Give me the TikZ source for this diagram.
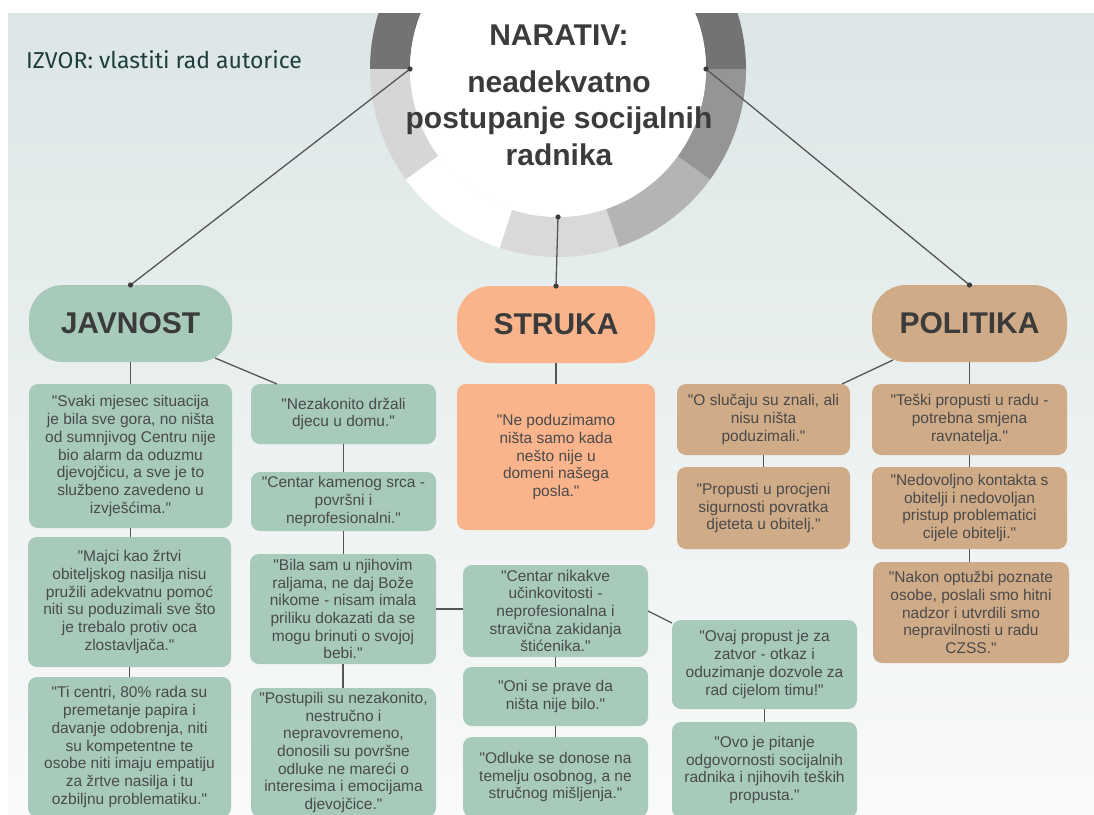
\documentclass[tikz,border=0pt]{standalone}
\usepackage{fontspec}
\setmainfont{Liberation Sans}
\newfontfamily\bodyfont{Liberation Sans}
\newfontfamily\izvorfont{Fira Sans}
\usetikzlibrary{calc}
\definecolor{bgtop}{RGB}{220,230,230}
\definecolor{bgbot}{RGB}{249,250,250}
\definecolor{gbox}{RGB}{167,202,187}
\definecolor{sbox}{RGB}{249,180,139}
\definecolor{tbox}{RGB}{207,171,136}
\definecolor{hdrtxt}{RGB}{59,59,59}
\definecolor{txt}{RGB}{74,74,74}
\definecolor{linec}{RGB}{85,85,85}
\definecolor{izvorc}{RGB}{31,61,61}
\definecolor{ringA}{RGB}{115,115,115}
\definecolor{ringB}{RGB}{214,214,214}
\definecolor{ringC}{RGB}{217,217,217}
\definecolor{ringD}{RGB}{180,180,180}
\definecolor{ringE}{RGB}{149,149,149}
\tikzset{
  qbox/.style={rectangle, rounded corners=9pt, align=center, inner sep=0pt, outer sep=0pt,
    font=\bodyfont\fontsize{15.5}{17.7}\selectfont, text=txt},
  qg/.style={qbox, fill=gbox},
  qs/.style={qbox, fill=sbox},
  qt/.style={qbox, fill=tbox},
  hdr/.style={rectangle, rounded corners=34pt, inner sep=0pt, outer sep=0pt,
    font=\bodyfont\fontsize{30}{35}\selectfont\bfseries, text=hdrtxt},
  circtxt/.style={anchor=base, inner sep=0pt, font=\bodyfont\fontsize{30}{35}\selectfont\bfseries, text=hdrtxt},
  conn/.style={draw=linec, line width=1.3pt},
  enddot/.style={fill=linec!70!black}
}
\begin{document}
\begin{tikzpicture}[x=1pt,y=-1pt]
\useasboundingbox (0,0) rectangle (1094,814);
\clip (0,0) rectangle (1094,814);
\fill[white] (0,0) rectangle (1094,814);
\shade[top color=bgtop, bottom color=bgbot] (8,13) rectangle (1094,814);

% ring
\begin{scope}
\clip (8,13) rectangle (1094,814);
\begin{scope}[shift={(558,69)}, x=1pt, y=1pt]
\fill[ringA] (0:188pt) arc[start angle=0,end angle=180,radius=188pt] -- (180:148pt) arc[start angle=180,end angle=0,radius=148pt] -- cycle;
\fill[ringB] (180:188pt) arc[start angle=180,end angle=216,radius=188pt] -- (216:148pt) arc[start angle=216,end angle=180,radius=148pt] -- cycle;
\fill[white] (216:188pt) arc[start angle=216,end angle=252,radius=188pt] -- (252:148pt) arc[start angle=252,end angle=216,radius=148pt] -- cycle;
\fill[ringC] (252:188pt) arc[start angle=252,end angle=289,radius=188pt] -- (289:148pt) arc[start angle=289,end angle=252,radius=148pt] -- cycle;
\fill[ringD] (289:188pt) arc[start angle=289,end angle=324,radius=188pt] -- (324:148pt) arc[start angle=324,end angle=289,radius=148pt] -- cycle;
\fill[ringE] (324:188pt) arc[start angle=324,end angle=360,radius=188pt] -- (360:148pt) arc[start angle=360,end angle=324,radius=148pt] -- cycle;
\end{scope}
\node[circle, fill=white, minimum size=296pt, inner sep=0pt, outer sep=0pt] (narrativ) at (558,69) {};
\end{scope}

\node[circtxt] (t1) at (559,45) {NARATIV:};
\node[circtxt] (t2) at (559,92) {neadekvatno};
\node[circtxt] (t3) at (559,128.5) {postupanje socijalnih};
\node[circtxt] (t4) at (559,165) {radnika};

\node[anchor=base west, inner sep=0pt, font=\izvorfont\fontsize{23}{27}\selectfont, text=izvorc] (izvor) at (26,68) {IZVOR: vlastiti rad autorice};

% headers
\node[hdr, fill=gbox, minimum width=203pt, minimum height=77pt] (javnost) at (130.5,323.5) {JAVNOST};
\node[hdr, fill=sbox, minimum width=198pt, minimum height=77pt] (struka) at (556,324.5) {STRUKA};
\node[hdr, fill=tbox, minimum width=195pt, minimum height=77pt] (politika) at (969.5,323.5) {POLITIKA};

% JAVNOST column A
\node[qg, minimum width=203pt, minimum height=144pt] (a1) at (130.5,456) {"Svaki mjesec situacija\\je bila sve gora, no ništa\\od sumnjivog Centru nije\\bio alarm da oduzmu\\djevojčicu, a sve je to\\službeno zavedeno u\\izvješćima."};
\node[qg, minimum width=203pt, minimum height=130pt] (a2) at (129.5,602) {"Majci kao žrtvi\\obiteljskog nasilja nisu\\pružili adekvatnu pomoć\\niti su poduzimali sve što\\je trebalo protiv oca\\zlostavljača."};
\node[qg, minimum width=203pt, minimum height=140pt] (a3) at (129.5,747) {"Ti centri, 80\% rada su\\premetanje papira i\\davanje odobrenja, niti\\su kompetentne te\\osobe niti imaju empatiju\\za žrtve nasilja i tu\\ozbiljnu problematiku."};
% column B
\node[qg, minimum width=185pt, minimum height=60pt] (b1) at (343.5,414) {"Nezakonito držali\\djecu u domu."};
\node[qg, minimum width=185pt, minimum height=59pt] (b2) at (343.5,501.5) {"Centar kamenog srca -\\površni i\\neprofesionalni."};
\node[qg, minimum width=186pt, minimum height=110pt] (b3) at (343,609) {"Bila sam u njihovim\\raljama, ne daj Bože\\nikome - nisam imala\\priliku dokazati da se\\mogu brinuti o svojoj\\bebi."};
\node[qg, minimum width=185pt, minimum height=129pt] (b4) at (343.5,752.5) {"Postupili su nezakonito,\\nestručno i\\nepravovremeno,\\donosili su površne\\odluke ne mareći o\\interesima i emocijama\\djevojčice."};
% STRUKA
\node[qs, minimum width=198pt, minimum height=146pt] (s1) at (556,457) {"Ne poduzimamo\\ništa samo kada\\nešto nije u\\domeni našega\\posla."};
% column C
\node[qg, minimum width=185pt, minimum height=92pt] (c1) at (555.5,611) {"Centar nikakve\\učinkovitosti -\\neprofesionalna i\\stravična zakidanja\\štićenika."};
\node[qg, minimum width=185pt, minimum height=59pt] (c2) at (555.5,696.5) {"Oni se prave da\\ništa nije bilo."};
\node[qg, minimum width=185pt, minimum height=80pt] (c3) at (555.5,777) {"Odluke se donose na\\temelju osobnog, a ne\\stručnog mišljenja."};
% column D
\node[qg, minimum width=185pt, minimum height=89pt] (d1) at (764.5,664.5) {"Ovaj propust je za\\zatvor - otkaz i\\oduzimanje dozvole za\\rad cijelom timu!"};
\node[qg, minimum width=185pt, minimum height=96pt] (d2) at (764.5,770) {"Ovo je pitanje\\odgovornosti socijalnih\\radnika i njihovih teških\\propusta."};
% POLITIKA column E
\node[qt, minimum width=173pt, minimum height=71pt] (e1) at (763.5,419.5) {"O slučaju su znali, ali\\nisu ništa\\poduzimali."};
\node[qt, minimum width=173pt, minimum height=82pt] (e2) at (763.5,508) {"Propusti u procjeni\\sigurnosti povratka\\djeteta u obitelj."};
% column F
\node[qt, minimum width=195pt, minimum height=71pt] (f1) at (969.5,419.5) {"Teški propusti u radu -\\potrebna smjena\\ravnatelja."};
\node[qt, minimum width=195pt, minimum height=82pt] (f2) at (969.5,508) {"Nedovoljno kontakta s\\obitelji i nedovoljan\\pristup problematici\\cijele obitelji."};
\node[qt, minimum width=196pt, minimum height=101pt] (f3) at (971,612.5) {"Nakon optužbi poznate\\osobe, poslali smo hitni\\nadzor i utvrdili smo\\nepravilnosti u radu\\CZSS."};

% connectors from circle
\draw[conn] (narrativ.180) -- (javnost.north);
\draw[conn] (narrativ.270) -- (struka.north);
\draw[conn] (narrativ.0) -- (politika.north);
\foreach \p in {narrativ.180, narrativ.270, narrativ.0, javnost.north, struka.north, politika.north}
  \fill[enddot] (\p) circle[radius=2.6pt];

% JAVNOST
\draw[conn] (javnost.south) -- (javnost.south |- a1.north);
\draw[conn] (a1.south) -- (a1.south |- a2.north);
\draw[conn] (a2.south) -- (a2.south |- a3.north);
\draw[conn] ([xshift=-17pt,yshift=4pt]javnost.south east) -- ([xshift=26pt]b1.north west);
\draw[conn] (b1.south) -- (b1.south |- b2.north);
\draw[conn] (b2.south) -- (b2.south |- b3.north);
\draw[conn] (b3.south) -- (b3.south |- b4.north);
\draw[conn] (b3.east) -- (b3.east -| c1.west);
% STRUKA
\draw[conn] (struka.south) -- (struka.south |- s1.north);
\draw[conn] (c1.south) -- (c1.south |- c2.north);
\draw[conn] (c2.south) -- (c2.south |- c3.north);
\draw[conn] (c1.east) -- ([yshift=-3pt]d1.north west);
\draw[conn] (d1.south) -- (d1.south |- d2.north);
% POLITIKA
\draw[conn] ([xshift=21pt,yshift=2pt]politika.south west) -- ([xshift=-8pt]e1.north east);
\draw[conn] (e1.south) -- (e1.south |- e2.north);
\draw[conn] (politika.south) -- (politika.south |- f1.north);
\draw[conn] (f1.south) -- (f1.south |- f2.north);
\draw[conn] (f2.south) -- (f2.south |- f3.north);
\end{tikzpicture}
\end{document}
